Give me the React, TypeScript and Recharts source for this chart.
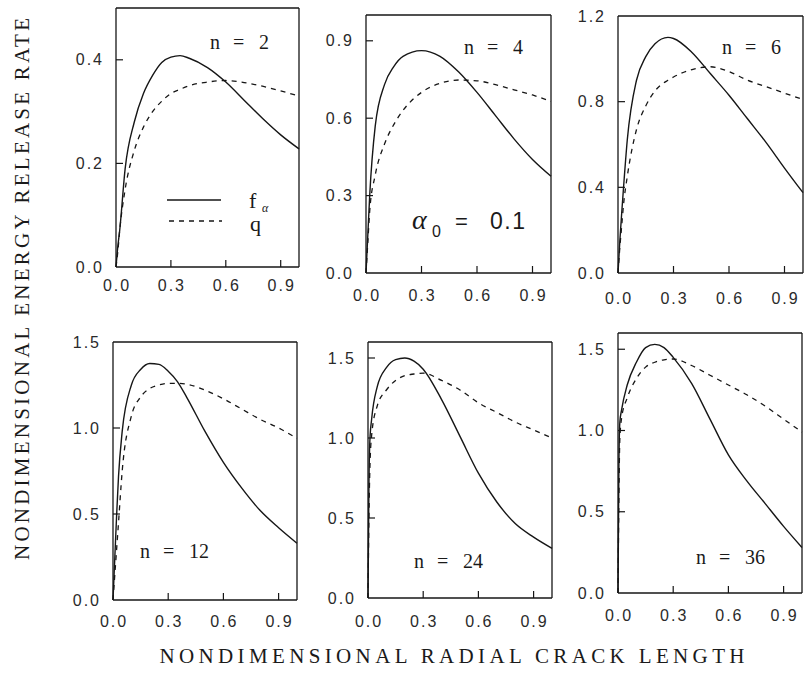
import React from 'react';
import { LineChart, Line, XAxis, YAxis, ReferenceLine } from 'recharts';

// ---- data ----
const X_TICKS = [0, 0.3, 0.6, 0.9];

const X1 = [0, 0.01, 0.02, 0.05, 0.1, 0.15, 0.2, 0.25, 0.3, 0.35, 0.4, 0.5, 0.6, 0.7, 0.8, 0.9, 1.0];
const F1 = [0, 0.04, 0.07, 0.19, 0.28, 0.335, 0.37, 0.395, 0.405, 0.408, 0.403, 0.385, 0.357, 0.322, 0.287, 0.255, 0.228];
const Q1 = [0, 0.03, 0.07, 0.15, 0.225, 0.27, 0.3, 0.32, 0.335, 0.343, 0.35, 0.357, 0.36, 0.356, 0.349, 0.34, 0.33];

const X2 = [0, 0.01, 0.02, 0.05, 0.1, 0.15, 0.2, 0.3, 0.4, 0.5, 0.6, 0.7, 0.8, 0.9, 1.0];
const F2 = [0, 0.15, 0.3, 0.57, 0.73, 0.8, 0.84, 0.862, 0.84, 0.78, 0.7, 0.61, 0.52, 0.44, 0.375];
const Q2 = [0, 0.12, 0.24, 0.38, 0.5, 0.575, 0.63, 0.7, 0.735, 0.748, 0.745, 0.73, 0.71, 0.69, 0.665];

const X3 = [0, 0.01, 0.02, 0.03, 0.05, 0.1, 0.15, 0.2, 0.27, 0.3, 0.4, 0.5, 0.6, 0.7, 0.8, 0.9, 1.0];
const F3 = [0, 0.15, 0.28, 0.4, 0.62, 0.9, 1.01, 1.07, 1.1, 1.095, 1.03, 0.93, 0.83, 0.72, 0.61, 0.49, 0.375];
const Q3 = [0, 0.12, 0.22, 0.32, 0.45, 0.67, 0.78, 0.85, 0.9, 0.915, 0.95, 0.963, 0.94, 0.9, 0.87, 0.84, 0.81];

const X4 = [0, 0.01, 0.02, 0.03, 0.05, 0.1, 0.15, 0.2, 0.25, 0.3, 0.35, 0.4, 0.5, 0.6, 0.7, 0.8, 0.9, 1.0];
const F4 = [0, 0.25, 0.5, 0.72, 0.98, 1.25, 1.34, 1.375, 1.37, 1.33, 1.27, 1.18, 0.98, 0.8, 0.65, 0.52, 0.42, 0.33];
const Q4 = [0, 0.15, 0.3, 0.45, 0.75, 1.07, 1.18, 1.23, 1.25, 1.26, 1.26, 1.255, 1.22, 1.17, 1.11, 1.05, 1.0, 0.94];

const X5 = [0, 0.005, 0.01, 0.02, 0.05, 0.1, 0.15, 0.2, 0.25, 0.3, 0.4, 0.5, 0.6, 0.7, 0.8, 0.9, 1.0];
const F5 = [0, 0.7, 0.98, 1.12, 1.32, 1.44, 1.49, 1.5, 1.48, 1.43, 1.24, 1.01, 0.78, 0.6, 0.465, 0.38, 0.31];
const Q5 = [0, 0.5, 0.8, 1.02, 1.2, 1.3, 1.36, 1.39, 1.4, 1.405, 1.36, 1.3, 1.22, 1.16, 1.1, 1.05, 1.0];

const X6 = [0, 0.005, 0.01, 0.02, 0.05, 0.1, 0.15, 0.2, 0.25, 0.3, 0.4, 0.5, 0.6, 0.7, 0.8, 0.9, 1.0];
const F6 = [0, 0.8, 1.05, 1.13, 1.28, 1.42, 1.51, 1.53, 1.51, 1.45, 1.29, 1.07, 0.85, 0.69, 0.55, 0.41, 0.28];
const Q6 = [0, 0.6, 0.95, 1.08, 1.2, 1.32, 1.39, 1.42, 1.435, 1.44, 1.4, 1.34, 1.28, 1.22, 1.15, 1.07, 0.99];

const Y_TICKS_1 = [0, 0.2, 0.4];
const Y_TICKS_2 = [0, 0.3, 0.6, 0.9];
const Y_TICKS_3 = [0, 0.4, 0.8, 1.2];
const Y_TICKS_B = [0, 0.5, 1.0, 1.5];

const N_LABELS = ['2', '4', '6', '12', '24', '36'];

const build = (xs: number[], f: number[], q: number[]) => xs.map((x, i) => ({ x, f: f[i], q: q[i] }));

const PANELS = [
  { rows: build(X1, F1, Q1), yMax: 0.5, yTicks: Y_TICKS_1, left: 116, top: 8, w: 183, h: 259, xdy: 18 },
  { rows: build(X2, F2, Q2), yMax: 1.0, yTicks: Y_TICKS_2, left: 366, top: 15, w: 185, h: 258, xdy: 22 },
  { rows: build(X3, F3, Q3), yMax: 1.2, yTicks: Y_TICKS_3, left: 618, top: 16, w: 185, h: 257, xdy: 25 },
  { rows: build(X4, F4, Q4), yMax: 1.5, yTicks: Y_TICKS_B, left: 113, top: 342, w: 184, h: 258, xdy: 21 },
  { rows: build(X5, F5, Q5), yMax: 1.6, yTicks: Y_TICKS_B, left: 368, top: 342, w: 184, h: 256, xdy: 23 },
  { rows: build(X6, F6, Q6), yMax: 1.6, yTicks: Y_TICKS_B, left: 618, top: 333, w: 184, h: 260, xdy: 22 },
];

const INK = '#161616';
const TICK_FONT = '"Liberation Sans", Arial, sans-serif';
const SERIF = '"Liberation Serif", "Times New Roman", serif';

const YTick = (props: any) => {
  const { x, y, payload, yMax } = props;
  const v = payload.value as number;
  return (
    <g>
      <text x={x - 12} y={y} textAnchor="end" dominantBaseline="central" fontFamily={TICK_FONT} fontSize={16} fill="#2a2a2a" letterSpacing={2}>
        {v.toFixed(1)}
      </text>
      {v > 0 && v < yMax - 1e-9 && <line x1={x} x2={x + 7} y1={y} y2={y} stroke={INK} strokeWidth={1.2} />}
    </g>
  );
};

const XTick = (props: any) => {
  const { x, y, payload, dyv } = props;
  const v = payload.value as number;
  return (
    <g>
      <text x={x + 1} y={y + dyv} textAnchor="middle" dominantBaseline="central" fontFamily={TICK_FONT} fontSize={16} fill="#2a2a2a" letterSpacing={2}>
        {v.toFixed(1)}
      </text>
      {v > 0 && <line x1={x} x2={x} y1={y} y2={y - 7} stroke={INK} strokeWidth={1.2} />}
    </g>
  );
};

const ML = 70;
const MT = 10;
const MR = 10;
const MB = 45;

function Panel({ p }: { p: any }) {
  return (
    <div style={{ position: 'absolute', left: p.left - ML, top: p.top - MT }}>
      <LineChart width={p.w + ML + MR} height={p.h + MT + MB} data={p.rows} margin={{ top: MT, right: MR, bottom: 0, left: 0 }}>
        <XAxis
          type="number"
          dataKey="x"
          domain={[0, 1]}
          ticks={X_TICKS}
          interval={0}
          height={MB}
          axisLine={{ stroke: INK, strokeWidth: 1.3 }}
          tickLine={false}
          tickSize={0}
          tickMargin={0}
          tick={<XTick dyv={p.xdy} />}
        />
        <YAxis
          type="number"
          domain={[0, p.yMax]}
          ticks={p.yTicks}
          interval={0}
          width={ML}
          axisLine={{ stroke: INK, strokeWidth: 1.3 }}
          tickLine={false}
          tickSize={0}
          tickMargin={0}
          tick={<YTick yMax={p.yMax} />}
          allowDataOverflow
        />
        <ReferenceLine y={p.yMax} stroke={INK} strokeWidth={1.3} />
        <ReferenceLine x={1} stroke={INK} strokeWidth={1.3} />
        <Line type="monotone" dataKey="q" stroke={INK} strokeWidth={1.3} strokeDasharray="5 5" dot={false} isAnimationActive={false} />
        <Line type="monotone" dataKey="f" stroke={INK} strokeWidth={1.4} dot={false} isAnimationActive={false} />
      </LineChart>
    </div>
  );
}

const N_POS = [
  { x: 210, y: 49 },
  { x: 464, y: 54 },
  { x: 722, y: 54 },
  { x: 140, y: 558 },
  { x: 414, y: 568 },
  { x: 696, y: 564 },
];

export default function App() {
  return (
    <div style={{ position: 'absolute', left: 0, top: 0, width: 805, height: 687, background: '#fff', overflow: 'hidden' }}>
      {PANELS.map((p, i) => (
        <Panel key={i} p={p} />
      ))}
      <svg width={805} height={687} style={{ position: 'absolute', left: 0, top: 0, pointerEvents: 'none' }}>
        {/* axis titles */}
        <text
          x={0}
          y={0}
          transform="translate(29 289) rotate(-90)"
          textAnchor="middle"
          fontFamily={SERIF}
          fontSize={21}
          fill="#1a1a1a"
          textLength={542}
          lengthAdjust="spacing"
        >
          NONDIMENSIONAL ENERGY RELEASE RATE
        </text>
        <text x={452} y={663} textAnchor="middle" fontFamily={SERIF} fontSize={21} fill="#1a1a1a" textLength={585} lengthAdjust="spacing">
          NONDIMENSIONAL RADIAL CRACK LENGTH
        </text>
        {/* n labels */}
        {N_LABELS.map((n, i) => (
          <text key={n} y={N_POS[i].y} fontFamily={SERIF} fontSize={20} fill="#1a1a1a">
            <tspan x={N_POS[i].x}>n</tspan>
            <tspan x={N_POS[i].x + 23}>=</tspan>
            <tspan x={N_POS[i].x + 49}>{n}</tspan>
          </text>
        ))}
        {/* legend */}
        <line x1={167} x2={221} y1={200} y2={200} stroke={INK} strokeWidth={1.4} />
        <line x1={169} x2={222} y1={221} y2={221} stroke={INK} strokeWidth={1.3} strokeDasharray="5 5" />
        <text x={249} y={208} fontFamily={SERIF} fontSize={22} fill="#1a1a1a">f</text>
        <text x={262} y={212} fontFamily={SERIF} fontSize={12} fontStyle="italic" fill="#1a1a1a">α</text>
        <text x={250} y={231} fontFamily={SERIF} fontSize={22} fill="#1a1a1a">q</text>
        {/* alpha_0 label */}
        <text x={412} y={229} fontFamily={SERIF} fontSize={28} fontStyle="italic" fill="#1a1a1a">α</text>
        <text x={432} y={237} fontFamily={TICK_FONT} fontSize={16} fill="#1a1a1a">0</text>
        <text x={455} y={229} fontFamily={TICK_FONT} fontSize={22} fill="#1a1a1a">=</text>
        <text x={490} y={229} fontFamily={TICK_FONT} fontSize={23} fill="#1a1a1a" letterSpacing={1.5}>0.1</text>
      </svg>
    </div>
  );
}
